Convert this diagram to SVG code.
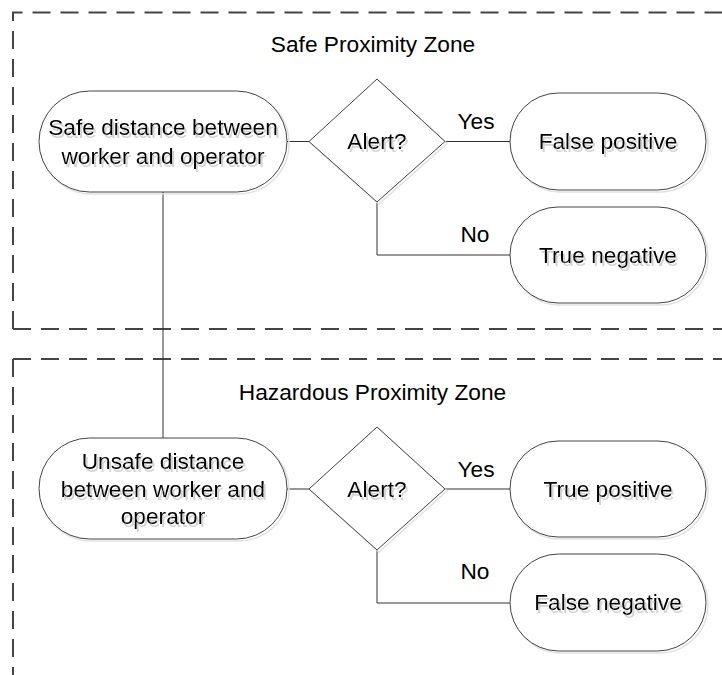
<svg xmlns="http://www.w3.org/2000/svg" width="722" height="675" viewBox="0 0 722 675">
<defs>
<filter id="tshadow" x="-10%" y="-20%" width="120%" height="150%">
<feOffset in="SourceAlpha" dx="1.5" dy="2.5" result="o"/>
<feFlood flood-color="#d4d4d4"/>
<feComposite in2="o" operator="in" result="s"/>
<feMerge><feMergeNode in="s"/><feMergeNode in="SourceGraphic"/></feMerge>
</filter>
</defs>
<style>
.zone{fill:none;stroke:#444;stroke-width:2;stroke-dasharray:18 10}
.shape{fill:#fff;stroke:#444;stroke-width:1}
.shadow{fill:none;stroke:#e2e2e2;stroke-width:1.5}
.t{font-family:"Liberation Sans",Arial,sans-serif;font-size:22.7px;fill:#000;text-anchor:middle}
.st{filter:url(#tshadow)}
.conn{fill:none;stroke:#333;stroke-width:1}
</style>
<rect width="722" height="675" fill="#fff"/>
<g id="zone-safe">
<path class="zone" d="M13,329 V12.5 H740"/>
<path class="zone" d="M13,329 H740"/>
<text class="t" x="373" y="52">Safe Proximity Zone</text>
</g>
<g id="zone-hazard">
<path class="zone" d="M13,359 H740"/>
<path class="zone" d="M13,359 V700"/>
<text class="t" x="372.5" y="400">Hazardous Proximity Zone</text>
</g>
<g id="connectors">
<path class="conn" d="M163,192 V438"/>
<path class="conn" d="M287,141.5 H309"/>
<path class="conn" d="M445,141.5 H510"/>
<path class="conn" d="M377,203 V255 H510"/>
<path class="conn" d="M287,489 H309"/>
<path class="conn" d="M445,489 H510"/>
<path class="conn" d="M377,550 V603 H510"/>
<text class="t" x="476" y="129">Yes</text>
<text class="t" x="475" y="242">No</text>
<text class="t" x="476" y="477">Yes</text>
<text class="t" x="475" y="579">No</text>
</g>
<g id="node-safe-distance">
<rect class="shadow" x="41" y="93" width="248" height="101" rx="50.5"/>
<rect class="shape" x="39" y="91" width="248" height="101" rx="50.5"/>
<g class="st">
<text class="t" x="163" y="135">Safe distance between</text>
<text class="t" x="163" y="163.5">worker and operator</text>
</g>
</g>
<g id="node-alert-1">
<polygon class="shadow" points="379,81 447,143.5 379,204 311,143.5"/>
<polygon class="shape" points="377,79 445,141.5 377,202 309,141.5"/>
<text class="t st" x="377" y="149">Alert?</text>
</g>
<g id="node-false-positive">
<rect class="shadow" x="512" y="95" width="196" height="97" rx="48.5"/>
<rect class="shape" x="510" y="93" width="196" height="97" rx="48.5"/>
<text class="t st" x="608" y="149">False positive</text>
</g>
<g id="node-true-negative">
<rect class="shadow" x="512" y="209" width="196" height="96" rx="48"/>
<rect class="shape" x="510" y="207" width="196" height="96" rx="48"/>
<text class="t st" x="608" y="262.5">True negative</text>
</g>
<g id="node-unsafe-distance">
<rect class="shadow" x="41" y="440" width="248" height="101" rx="50.5"/>
<rect class="shape" x="39" y="438" width="248" height="101" rx="50.5"/>
<g class="st">
<text class="t" x="163" y="468.5">Unsafe distance</text>
<text class="t" x="163" y="496.5">between worker and</text>
<text class="t" x="163" y="524">operator</text>
</g>
</g>
<g id="node-alert-2">
<polygon class="shadow" points="379,429 447,491 379,552 311,491"/>
<polygon class="shape" points="377,427 445,489 377,550 309,489"/>
<text class="t st" x="377" y="496.5">Alert?</text>
</g>
<g id="node-true-positive">
<rect class="shadow" x="512" y="443" width="196" height="96" rx="48"/>
<rect class="shape" x="510" y="441" width="196" height="96" rx="48"/>
<text class="t st" x="608" y="496.5">True positive</text>
</g>
<g id="node-false-negative">
<rect class="shadow" x="512" y="556" width="196" height="97" rx="48.5"/>
<rect class="shape" x="510" y="554" width="196" height="97" rx="48.5"/>
<text class="t st" x="608" y="610">False negative</text>
</g>
</svg>
